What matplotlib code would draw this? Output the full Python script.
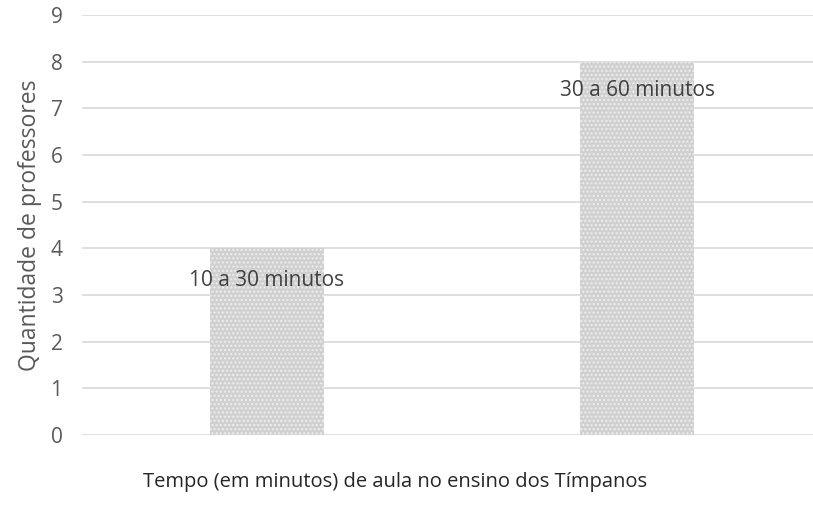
import matplotlib
matplotlib.use("Agg")
import matplotlib.pyplot as plt

# dados do gráfico
categorias = ["10 a 30 minutos", "30 a 60 minutos"]
professores = [4, 8]
ticks_y = [0, 1, 2, 3, 4, 5, 6, 7, 8, 9]

plt.rcParams['font.family'] = ['Open Sans', 'DejaVu Sans']
plt.rcParams['hatch.linewidth'] = 1.0

cinza = '#595959'

fig = plt.figure(figsize=(8.13, 5.21), dpi=100)
ax = fig.add_axes([82 / 813, 86 / 521, 740 / 813, 420 / 521])

x = range(len(categorias))
ax.bar(x, professores, width=0.31, color='#d0d0d0', edgecolor='#eeeeee',
       hatch='....', linewidth=0, zorder=2)

# rótulos dentro das barras (abaixo do topo)
desloc = [0.68, 0.62]
for i, (cat, v) in enumerate(zip(categorias, professores)):
    ax.text(i, v - desloc[i], cat, ha='center', va='center',
            fontsize=15, color='#404040', zorder=3)

ax.set_xlim(-0.5, 1.5)
ax.set_ylim(0, 9)
ax.set_yticks(ticks_y)
ax.set_xticks([])
ax.grid(axis='y', color='#d9d9d9', linewidth=1.2, zorder=0)
for s in ax.spines.values():
    s.set_visible(False)
ax.tick_params(axis='y', length=0, pad=14, labelsize=15, labelcolor=cinza)

ax.set_ylabel('Quantidade de professores', fontsize=16.5, color=cinza, labelpad=6)
fig.text(395 / 813, 1 - 482 / 521, 'Tempo (em minutos) de aula no ensino dos Tímpanos',
         ha='center', va='center', fontsize=14.5, color='#262626')

fig.savefig('out.png', dpi=100)
